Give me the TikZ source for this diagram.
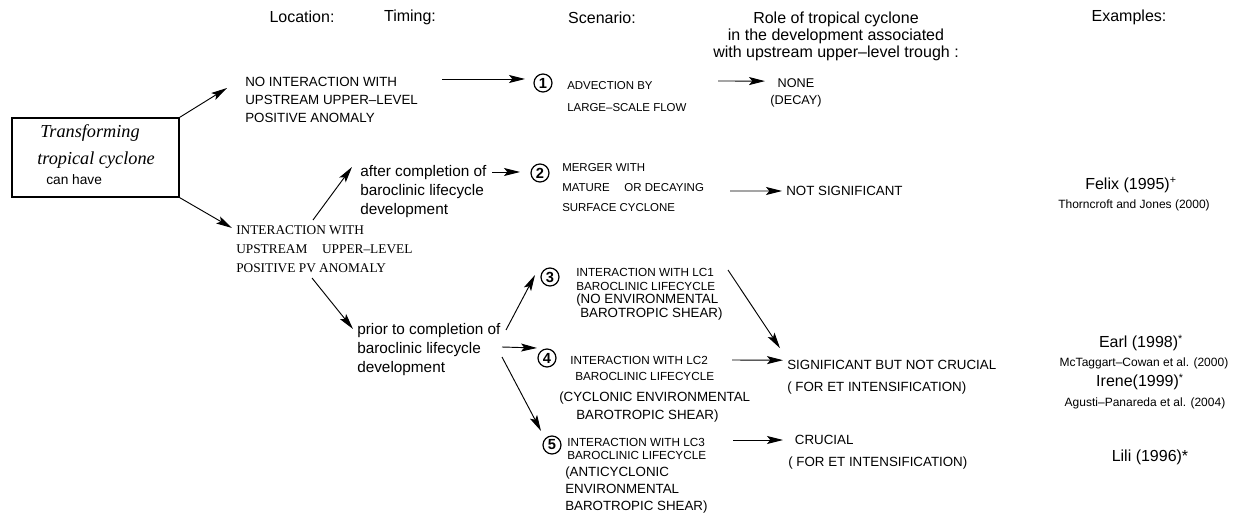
\documentclass[tikz,border=0pt]{standalone}
\usepackage{fontspec}
\setmainfont{Liberation Serif}
\setsansfont{Liberation Sans}
\usetikzlibrary{calc,arrows.meta}
\newcommand\myfs[2]{\fontsize{#1}{#2}\selectfont}
\tikzset{
 arr/.style={draw, line width=0.7pt, -{Stealth[length=12pt,width=6pt,inset=2.5pt]}},
 txt/.style={inner sep=0pt, anchor=north west, align=left},
 num/.style={circle, draw, line width=0.9pt, minimum size=13.5pt, inner sep=0pt, font=\sffamily\bfseries\myfs{11}{11}},
 hdr/.style={inner sep=0pt, font=\sffamily\myfs{12}{12.75}},
 ex/.style={inner sep=0pt, font=\sffamily\myfs{12}{14}},
 exs/.style={inner sep=0pt, font=\sffamily\myfs{9}{11}},
}
\begin{document}
\begin{tikzpicture}[x=0.75pt,y=-0.75pt]
\useasboundingbox (0,0) rectangle (1235,513);
% headers
\node[hdr] (hloc) at (302,17) {Location:};
\node[hdr] (htim) at (410,17) {Timing:};
\node[hdr] (hsce) at (602,18) {Scenario:};
\node[hdr, align=center, anchor=north] (hrole) at (836,12) {Role of tropical cyclone\\ in the development associated\\ with upstream upper–level trough :};
\node[hdr] (hex) at (1129,17) {Examples:};
% start box
\node[draw, line width=0.9pt, minimum width=125.25pt, minimum height=59.25pt, inner sep=0pt] (tc) at (95.5,157.5) {};
\node[txt, font=\rmfamily\itshape\myfs{13.7}{15}] (tct) at (37,124.5) {\hspace*{2.25pt}Transforming\\[5.25pt] tropical cyclone\\ \hspace*{6.75pt}{\sffamily\upshape\myfs{10.3}{15}can have}};
% location
\node[txt, font=\sffamily\myfs{10}{13.5}] (noint) at (245,77) {NO INTERACTION WITH\\ UPSTREAM UPPER–LEVEL\\ POSITIVE ANOMALY};
\node[txt, font=\rmfamily\myfs{10}{14}] (inter) at (236,225.6) {INTERACTION WITH\\ UPSTREAM\hspace{11pt}UPPER–LEVEL\\ POSITIVE PV ANOMALY};
% timing
\node[txt, font=\sffamily\myfs{11.5}{14.25}] (after) at (360,165) {after completion of\\ baroclinic lifecycle\\ development};
\node[txt, font=\sffamily\myfs{11.5}{14.25}] (prior) at (357,323) {prior to completion of\\ baroclinic lifecycle\\ development};
% scenarios
\node[num] (c1) at (543,83) {1};
\node[num] (c2) at (540,173) {2};
\node[num] (c3) at (550,277) {3};
\node[num] (c4) at (547,358) {4};
\node[num] (c5) at (552,445) {5};
\node[txt, font=\sffamily\myfs{8.6}{16.5}] (s1) at (567,81) {ADVECTION BY\\ LARGE–SCALE FLOW};
\node[txt, font=\sffamily\myfs{8.6}{15}] (s2) at (562,163) {MERGER WITH\\ MATURE\hspace{11pt}OR DECAYING\\ SURFACE CYCLONE};
\node[txt, font=\sffamily\myfs{8.8}{10.3}] (s3) at (576,268) {INTERACTION WITH LC1\\ BAROCLINIC LIFECYCLE\\ {\myfs{10}{10.3}(NO ENVIRONMENTAL}\\ \hspace*{3pt}{\myfs{10}{10.3}BAROTROPIC SHEAR)}};
\node[txt, font=\sffamily\myfs{8.8}{12}] (s4) at (559,355.8) {\hspace*{8.25pt}INTERACTION WITH LC2\\ \hspace*{12pt}BAROCLINIC LIFECYCLE\\[4pt] {\myfs{10}{12}(CYCLONIC ENVIRONMENTAL}\\[1.5pt] \hspace*{12.75pt}{\myfs{10}{12}BAROTROPIC SHEAR)}};
\node[txt, font=\sffamily\myfs{8.8}{9.75}] (s5) at (565,437.8) {\hspace*{1.5pt}INTERACTION WITH LC3\\ \hspace*{1.5pt}BAROCLINIC LIFECYCLE\\[3pt] {\myfs{10}{9.75}(ANTICYCLONIC}\\[3.2pt] {\myfs{10}{9.75}ENVIRONMENTAL}\\[3.2pt] {\myfs{10}{9.75}BAROTROPIC SHEAR)}};
% roles
\node[inner sep=0pt, anchor=north, align=center, font=\sffamily\myfs{9.5}{12.75}] (none) at (796,78.5) {NONE\\ (DECAY)};
\node[txt, font=\sffamily\myfs{10}{12}] (notsig) at (786,186.2) {NOT SIGNIFICANT};
\node[txt, font=\sffamily\myfs{10}{16.5}] (sig) at (787,360.2) {SIGNIFICANT BUT NOT CRUCIAL\\ ( FOR ET INTENSIFICATION)};
\node[txt, font=\sffamily\myfs{10}{16.5}] (cru) at (788,435.2) {\hspace*{5pt}CRUCIAL\\ ( FOR ET INTENSIFICATION)};
% examples
\node[ex] (felix) at (1131,185) {Felix (1995)\textsuperscript{+}};
\node[exs] (thorn) at (1134,205) {Thorncroft and Jones (2000)};
\node[ex] (earl) at (1141,343) {Earl (1998)\textsuperscript{*}};
\node[exs] (mct) at (1144,363) {McTaggart–Cowan et al. (2000)};
\node[ex] (irene) at (1140,382) {Irene(1999)\textsuperscript{*}};
\node[exs] (agu) at (1145,403) {Agusti–Panareda et al. (2004)};
\node[ex] (lili) at (1150,457) {Lili (1996)*};
% arrows
\draw[arr] (tc.north east) -- ($(noint.north west)+(-18,11)$);
\draw[arr] (tc.south east) -- ($(inter.north west)+(-4,2.4)$);
\draw[arr] ($(inter.north west)+(77,-5.6)$) -- ($(after.north west)+(-8,2)$);
\draw[arr] ($(inter.north west)+(76,52.4)$) -- ($(prior.north west)+(-4,6)$);
\draw[arr] ($(noint.north west)+(197,2)$) -- ($(c1.center)+(-18,-4)$);
\draw[arr] ($(after.north west)+(132,7)$) -- ($(c2.center)+(-20,-1)$);
\draw[arr] ($(s1.north west)+(151,0)$) -- ($(none.north)+(-31,2.6)$);
\draw[arr] ($(s2.north west)+(168,28)$) -- ($(notsig.north west)+(-4,4.8)$);
\draw[arr] ($(prior.north west)+(149,7)$) -- ($(c3.center)+(-15,-2)$);
\draw[arr] ($(prior.north west)+(145,24)$) -- ($(c4.center)+(-10,-10)$);
\draw[arr] ($(prior.north west)+(145,34)$) -- ($(c5.center)+(-11,-14)$);
\draw[arr] ($(s3.north west)+(152,2)$) -- ($(sig.north west)+(-7,-12)$);
\draw[arr] ($(s4.north west)+(173,4.2)$) -- ($(sig.north west)+(-4,0)$);
\draw[arr] ($(s5.north west)+(168,2.2)$) -- ($(cru.north west)+(-5,4.8)$);
\end{tikzpicture}
\end{document}
